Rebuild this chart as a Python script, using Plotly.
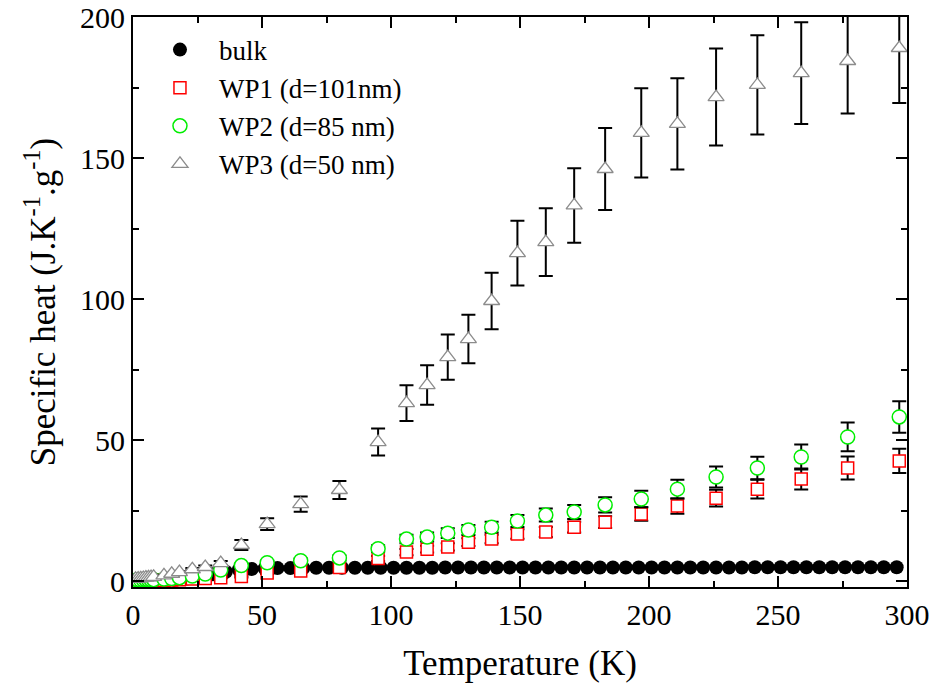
import plotly.graph_objects as go

# ---------------- data ----------------
bulk_T = [1, 6, 11, 16, 21, 26, 31, 36, 41, 46, 51, 56, 61, 66, 71, 76, 81, 86, 91, 96,
          101, 106, 111, 116, 121, 126, 131, 136, 141, 146, 151, 156, 161, 166, 171, 176,
          181, 186, 191, 196, 201, 206, 211, 216, 221, 226, 231, 236, 241, 246, 251, 256,
          261, 266, 271, 276, 281, 286, 291, 296]
bulk_C = [0.0, 0.05, 0.2, 0.5, 0.9, 1.5, 2.4, 3.3, 4.0, 4.3, 4.5, 4.6, 4.6, 4.6, 4.7, 4.7,
          4.7, 4.7, 4.7, 4.7, 4.7, 4.7, 4.7, 4.7, 4.8, 4.8, 4.8, 4.8, 4.8, 4.8, 4.8, 4.8,
          4.8, 4.8, 4.8, 4.8, 4.8, 4.8, 4.8, 4.8, 4.8, 4.8, 4.8, 4.8, 4.8, 4.8, 4.8, 4.8,
          4.9, 4.9, 4.9, 4.9, 4.9, 4.9, 4.9, 4.9, 4.9, 4.9, 4.9, 4.9]

T_wp = [1, 2, 3, 4, 5, 6, 7, 8, 12, 15, 18, 23, 28, 34, 42, 52, 65, 80, 95, 106, 114,
        122, 130, 139, 149, 160, 171, 183, 197, 211, 226, 242, 259, 277, 297]

wp1_C = [0.1, 0.1, 0.1, 0.1, 0.15, 0.15, 0.2, 0.2, 0.3, 0.4, 0.5, 0.7, 0.9, 1.2, 1.6, 2.9,
         3.6, 4.8, 8.0, 10.3, 11.3, 12.1, 13.8, 14.9, 16.7, 17.4, 19.1, 20.9, 23.8, 26.6,
         29.4, 32.6, 36.2, 40.1, 42.6]
wp1_err = [0.1, 0.1, 0.1, 0.1, 0.1, 0.1, 0.1, 0.1, 0.1, 0.1, 0.1, 0.1, 0.1, 0.2, 0.3, 0.4,
           0.5, 0.6, 0.9, 1.1, 1.2, 1.3, 1.4, 1.5, 1.7, 1.8, 1.9, 2.1, 2.4, 2.7, 3.0, 3.3,
           3.7, 4.1, 4.3]

wp2_C = [0.3, 0.3, 0.3, 0.35, 0.4, 0.4, 0.45, 0.5, 0.7, 0.9, 1.2, 1.8, 2.5, 3.9, 5.5, 6.5,
         7.2, 8.2, 11.5, 14.9, 15.6, 17.0, 18.1, 19.1, 21.3, 23.4, 24.5, 27.0, 29.1, 32.6,
         36.9, 40.1, 44.0, 51.1, 58.2]
wp2_err = [0.1, 0.1, 0.1, 0.1, 0.1, 0.1, 0.1, 0.1, 0.1, 0.1, 0.2, 0.2, 0.3, 0.4, 0.6, 0.7,
           0.8, 0.9, 1.2, 1.5, 1.6, 1.7, 1.8, 1.9, 2.1, 2.3, 2.5, 2.7, 2.9, 3.3, 3.7, 4.0,
           4.4, 5.1, 5.6]

wp3_C = [0.8, 0.9, 1.0, 1.1, 1.2, 1.3, 1.4, 1.5, 2.0, 2.6, 3.2, 4.2, 5.0, 6.4, 12.8, 20.2,
         27.3, 32.3, 49.3, 63.1, 69.5, 79.4, 85.8, 99.3, 116.3, 120.2, 133.2, 146.1, 158.9,
         162.1, 171.6, 175.9, 180.1, 184.4, 189.0]
wp3_err = [0.1, 0.1, 0.1, 0.1, 0.1, 0.1, 0.1, 0.2, 0.2, 0.3, 0.3, 0.4, 0.5, 0.7, 1.8, 2.1,
           2.7, 3.2, 4.8, 6.3, 7.0, 8.0, 8.6, 10.0, 11.5, 12.0, 13.2, 14.5, 15.8, 16.2,
           17.2, 17.6, 18.0, 18.6, 19.5]

names = ["bulk", "WP1 (d=101nm)", "WP2 (d=85 nm)", "WP3 (d=50 nm)"]

FONT = "Liberation Serif"

fig = go.Figure()

fig.add_trace(go.Scatter(
    x=bulk_T, y=bulk_C, mode="markers", name=names[0],
    marker=dict(symbol="circle", size=14, color="black", line=dict(width=0)),
))

err_style = dict(type="data", color="black", thickness=2, width=7)

fig.add_trace(go.Scatter(
    x=T_wp, y=wp1_C, mode="markers", name=names[1],
    error_y=dict(array=wp1_err, **err_style),
    marker=dict(symbol="square", size=12, color="white",
                line=dict(width=1.5, color="#ff0000")),
))
fig.add_trace(go.Scatter(
    x=T_wp, y=wp2_C, mode="markers", name=names[2],
    error_y=dict(array=wp2_err, **err_style),
    marker=dict(symbol="circle", size=14, color="white",
                line=dict(width=1.5, color="#00ee00")),
))
fig.add_trace(go.Scatter(
    x=T_wp, y=wp3_C, mode="markers", name=names[3],
    error_y=dict(array=wp3_err, **err_style),
    marker=dict(symbol="triangle-up", size=14, color="white",
                line=dict(width=1.3, color="#8c8c8c")),
))

axis_common = dict(
    showgrid=False, zeroline=False, showline=True, linecolor="black", linewidth=2,
    mirror="allticks", ticks="inside", ticklen=11, tickwidth=2, tickcolor="black",
    tickfont=dict(family=FONT, size=30, color="black"),
    minor=dict(ticks="inside", ticklen=6, tickwidth=2, tickcolor="black", dtick=25),
    automargin=False,
)

fig.update_xaxes(
    range=[0, 300], tick0=0, dtick=50,
    title=dict(text="Temperature (K)", font=dict(family=FONT, size=35, color="black"),
               standoff=20),
    **axis_common,
)
fig.update_yaxes(
    range=[-2.1, 200], tick0=0, dtick=50,
    title=dict(text="Specific heat (J.K<sup>-1</sup>.g<sup>-1</sup>)",
               font=dict(family=FONT, size=35, color="black"), standoff=14),
    **axis_common,
)

fig.update_layout(
    width=934, height=695,
    margin=dict(l=133, r=27, t=17, b=108),
    plot_bgcolor="white", paper_bgcolor="white",
    font=dict(family=FONT, size=27, color="black"),
    showlegend=True,
    legend=dict(x=0.0103, y=0.985, xanchor="left", yanchor="top",
                bgcolor="rgba(0,0,0,0)", font=dict(family=FONT, size=27, color="black"),
                itemwidth=68, tracegroupgap=0),
)

fig.write_html("out.html")
